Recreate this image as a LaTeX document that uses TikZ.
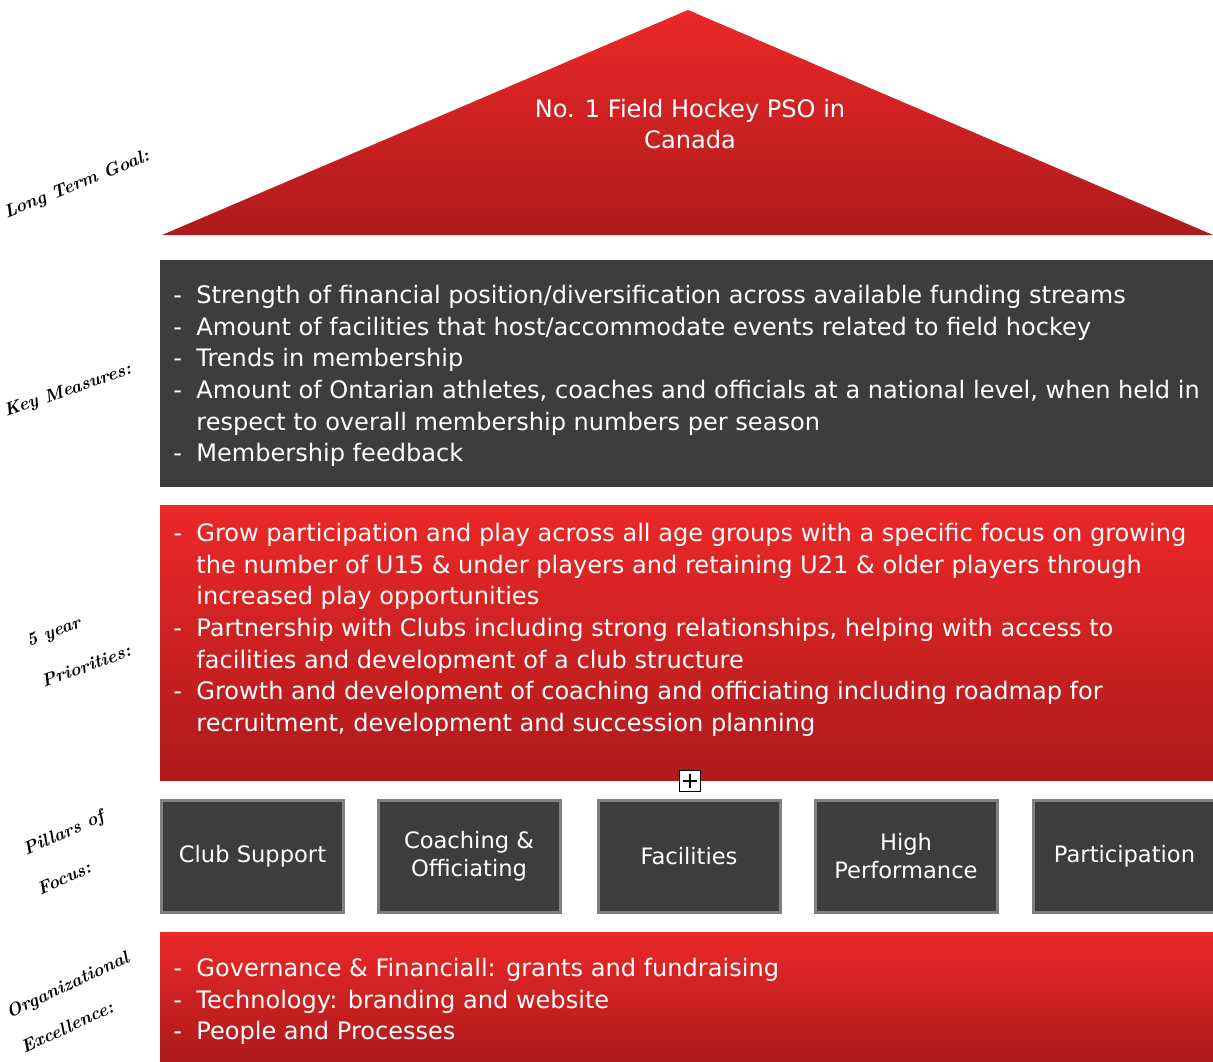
\documentclass[tikz,border=0pt]{standalone}
\usepackage{fontspec}
\newfontfamily\boxfont{DejaVu Sans}
\usepackage{xcolor}
\definecolor{hockeyred}{HTML}{EC2828}
\definecolor{hockeydark}{HTML}{AE1A1C}
\definecolor{panelgray}{HTML}{3D3D3D}
\definecolor{edgegray}{HTML}{808080}
\newcommand{\itm}{\makebox[11.5pt][l]{-}}
\newcommand{\cnt}{\hspace*{11.5pt}}

\tikzset{
  redband/.style={top color=hockeyred, bottom color=hockeydark},
  grayband/.style={fill=panelgray},
  bodytext/.style={text=white, inner sep=0pt, align=left,
    font=\boxfont\fontsize{12.03}{15.8}\selectfont},
  pillar/.style={draw=edgegray, line width=1.5pt, fill=panelgray, text=white,
    minimum width=91pt, minimum height=56pt, align=center, inner sep=2pt,
    font=\boxfont\fontsize{11.3}{14}\selectfont},
  sidelabel/.style={inner sep=0pt, font=\itshape\bfseries\fontsize{9}{11}\selectfont}
}

\begin{document}
\begin{tikzpicture}[x=0.5pt, y=-0.5pt]
  \useasboundingbox (0,0) rectangle (1213,1061);

  \path[redband] (162,235) -- (688,10) -- (1213,235) -- cycle;
  \path[grayband] (160,260) rectangle (1213,487);
  \path[redband] (160,505) rectangle (1213,780);
  \path[redband] (160,932) rectangle (1213,1061);

  \node[bodytext, align=center] (goal) at (690,124) {No. 1 Field Hockey PSO in\\Canada};

  \node[bodytext, anchor=north west] (measures) at (173,285) {%
    \itm Strength of financial position/diversification across available funding streams\\
    \itm Amount of facilities that host/accommodate events related to field hockey\\
    \itm Trends in membership\\
    \itm Amount of Ontarian athletes, coaches and officials at a national level, when held in\\
    \cnt respect to overall membership numbers per season\\
    \itm Membership feedback};

  \node[bodytext, anchor=north west] (priorities) at (173,523) {%
    \itm Grow participation and play across all age groups with a specific focus on growing\\
    \cnt the number of U15 \& under players and retaining U21 \& older players through\\
    \cnt increased play opportunities\\
    \itm Partnership with Clubs including strong relationships, helping with access to\\
    \cnt facilities and development of a club structure\\
    \itm Growth and development of coaching and officiating including roadmap for\\
    \cnt recruitment, development and succession planning};

  \node[draw=black, fill=white, line width=0.6pt, minimum size=10.5pt, inner sep=0pt] (expand) at (690,781) {};
  \draw[line width=0.6pt] ([yshift=-2pt]expand.north) -- ([yshift=2pt]expand.south);
  \draw[line width=0.6pt] ([xshift=2pt]expand.west) -- ([xshift=-2pt]expand.east);

  \node[pillar] (club) at (252.5,856) {Club Support};
  \node[pillar] (coach) at (469,856) {Coaching \&\\Officiating};
  \node[pillar] (facil) at (689,856) {Facilities};
  \node[pillar] (highperf) at (906,856) {High\\Performance};
  \node[pillar] (partic) at (1124.5,856) {Participation};

  \node[bodytext, anchor=north west] (excellence) at (173,958) {%
    \itm Governance \& Financiall: grants and fundraising\\
    \itm Technology: branding and website\\
    \itm People and Processes};

  \node[sidelabel, rotate=22] (lblgoal) at (77,185) {Long Term Goal:};
  \node[sidelabel, rotate=19] (lblmeasures) at (68,391) {Key Measures:};
  \node[sidelabel, rotate=20] (lblprior) at (54,633) {5 year};
  \node[sidelabel, rotate=20] (lblprior2) at (86,666) {Priorities:};
  \node[sidelabel, rotate=24] (lblpillars) at (64,834) {Pillars of};
  \node[sidelabel, rotate=24] (lblpillars2) at (64,878) {Focus:};
  \node[sidelabel, rotate=25] (lblexcel) at (68,986) {Organizational};
  \node[sidelabel, rotate=25] (lblexcel2) at (67,1027) {Excellence:};
\end{tikzpicture}
\end{document}
